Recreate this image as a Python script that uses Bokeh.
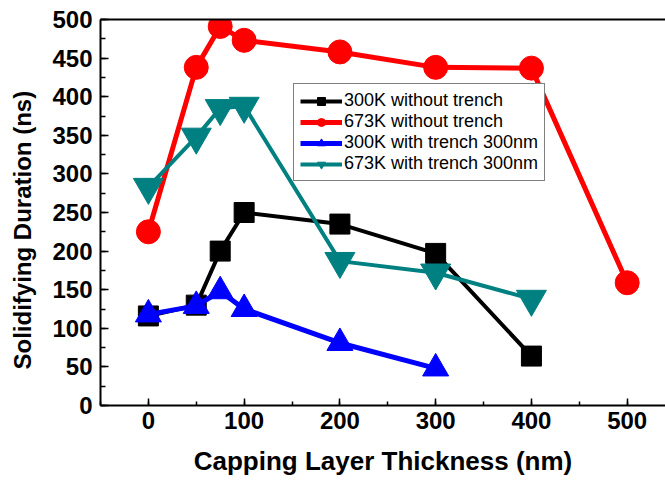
from bokeh.plotting import figure
from bokeh.models import (Legend, LegendItem, LinearAxis, Range1d, SingleIntervalTicker,
                          FixedTicker, Title)
from bokeh.embed import file_html
from bokeh.resources import INLINE

# Solidifying duration (ns) versus capping layer thickness (nm)
x_300k = [0, 50, 75, 100, 200, 300, 400]
y_300k = [116, 130, 200, 250, 235, 197, 64]

x_673k = [0, 50, 75, 100, 200, 300, 400, 500]
y_673k = [225, 438, 491, 473, 458, 438, 437, 159]

x_300k_trench = [0, 50, 75, 100, 200, 300]
y_300k_trench = [118, 129, 148, 125, 81, 48]

x_673k_trench = [0, 50, 75, 100, 200, 300, 400]
y_673k_trench = [283, 348, 385, 388, 187, 172, 138]

labels = ["300K without trench", "673K without trench",
          "300K with trench 300nm", "673K with trench 300nm"]

FONT = "Liberation Sans"

p = figure(width=665, height=482, output_backend="svg", toolbar_location=None,
           x_range=Range1d(-50, 540), y_range=Range1d(0, 500),
           min_border_left=100, min_border_right=0, min_border_top=19,
           min_border_bottom=77)
p.outline_line_color = None
p.xgrid.visible = False
p.ygrid.visible = False
p.background_fill_color = "white"
p.border_fill_color = "white"

# axes
p.xaxis.ticker = SingleIntervalTicker(interval=100, num_minor_ticks=2)
p.yaxis.ticker = SingleIntervalTicker(interval=50, num_minor_ticks=2)
for ax in (p.xaxis[0], p.yaxis[0]):
    ax.axis_line_width = 2
    ax.axis_line_color = "black"
    ax.major_tick_out = 0
    ax.minor_tick_out = 0
    ax.major_tick_line_width = 1.5
    ax.minor_tick_line_width = 1.5
    ax.major_label_text_font = FONT
    ax.major_label_text_font_style = "bold"
    ax.major_label_text_font_size = "24px"
    ax.major_label_text_color = "black"
    ax.axis_label_text_font = FONT
    ax.axis_label_text_font_style = "bold"
    ax.axis_label_text_color = "black"

p.xaxis.major_tick_in = 7
p.xaxis.minor_tick_in = 4
p.yaxis.major_tick_in = 8
p.yaxis.minor_tick_in = 5
p.xaxis.axis_label = "Capping Layer Thickness (nm)"
p.xaxis.axis_label_text_font_size = "26px"
p.xaxis.major_label_standoff = 6
p.xaxis.axis_label_standoff = 14
p.yaxis.major_label_standoff = 8

# y title, started a fixed distance above the frame bottom
ytitle = Title(text="Solidifying Duration (ns)", align="left", offset=36,
               vertical_align="bottom", standoff=0,
               text_font=FONT, text_font_style="bold",
               text_font_size="24px", text_color="black")
try:
    # extra room on the frame side pushes the title away from the tick labels
    ytitle.padding = dict(left=0, right=0, top=0, bottom=14)
except Exception:
    pass
p.add_layout(ytitle, "left")

# top frame line
top = LinearAxis(ticker=FixedTicker(ticks=[]), axis_line_width=2,
                 major_tick_in=0, major_tick_out=0,
                 minor_tick_in=0, minor_tick_out=0)
p.add_layout(top, "above")

# series
l1 = p.line(x_300k, y_300k, line_color="black", line_width=4)
m1 = p.scatter(x_300k, y_300k, marker="square", size=20,
               fill_color="black", line_color="black")
l2 = p.line(x_673k, y_673k, line_color="#FF0000", line_width=5)
m2 = p.scatter(x_673k, y_673k, marker="circle", size=24,
               fill_color="#FF0000", line_color="#FF0000")
l3 = p.line(x_300k_trench, y_300k_trench, line_color="#0000FF", line_width=5)
m3 = p.scatter(x_300k_trench, y_300k_trench, marker="triangle", size=26,
               fill_color="#0000FF", line_color="#0000FF")
l4 = p.line(x_673k_trench, y_673k_trench, line_color="#008080", line_width=4)
m4 = p.scatter(x_673k_trench, y_673k_trench, marker="inverted_triangle", size=30,
               fill_color="#008080", line_color="#008080")

legend = Legend(items=[
    LegendItem(label=labels[0], renderers=[l1, m1]),
    LegendItem(label=labels[1], renderers=[l2, m2]),
    LegendItem(label=labels[2], renderers=[l3, m3]),
    LegendItem(label=labels[3], renderers=[l4, m4]),
], location=(193, 224))
legend.border_line_color = "black"
legend.border_line_width = 1
legend.background_fill_color = "white"
legend.background_fill_alpha = 1
legend.padding = 6
legend.spacing = 0
legend.margin = 0
legend.glyph_width = 42
legend.glyph_height = 20
legend.label_height = 20
legend.label_standoff = 2
legend.label_text_font = FONT
legend.label_text_font_size = "18px"
legend.label_text_color = "black"
p.add_layout(legend)

open("out.html", "w").write(file_html(p, INLINE))
